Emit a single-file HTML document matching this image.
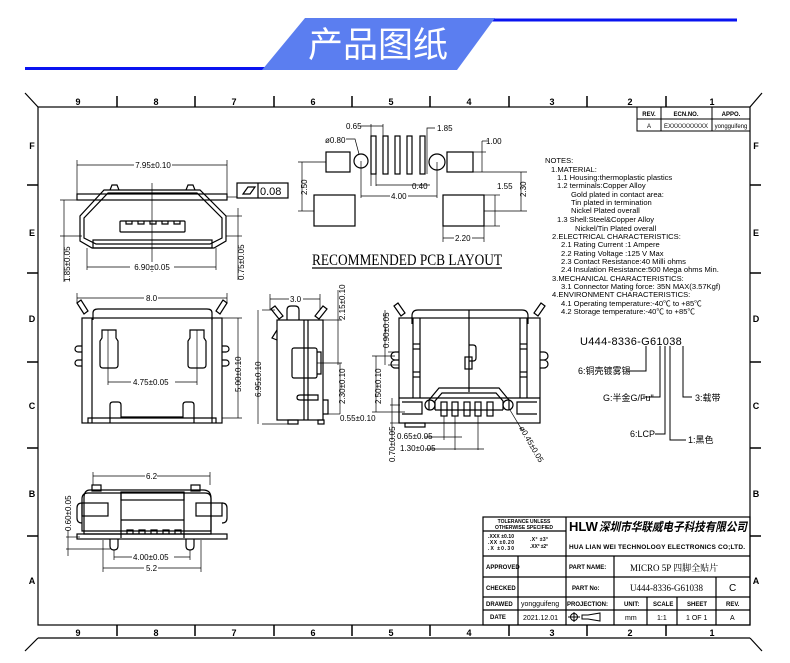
<!DOCTYPE html>
<html><head><meta charset="utf-8"><style>
html,body{margin:0;padding:0;background:#fff}
svg{display:block}
text{font-family:"Liberation Sans","Noto Sans CJK SC",sans-serif;fill:#000}
.s{font-size:8px}
.n{font-size:7.6px}
.cjk{font-family:"Liberation Serif","Noto Serif CJK SC",serif}
</style></head><body>
<svg width="790" height="663" viewBox="0 0 790 663" xmlns="http://www.w3.org/2000/svg" fill="none" stroke="#000" stroke-width="1">
<!-- header -->
<line x1="25" y1="68.5" x2="265" y2="68.5" stroke="#0a14f0" stroke-width="3"/>
<line x1="490" y1="20" x2="737" y2="20" stroke="#0a14f0" stroke-width="3"/>
<polygon points="305,18 495,18 457,70 262,70" fill="#5b7ef0" stroke="none"/>
<text x="378" y="57" font-size="35" text-anchor="middle" style="fill:#fff;font-family:'Noto Sans CJK SC',sans-serif" stroke="none">产品图纸</text>

<!-- frame -->
<g stroke-width="1.2">
<line x1="25" y1="93" x2="38" y2="107"/><line x1="762" y1="93" x2="750" y2="107"/>
<line x1="25" y1="651" x2="38" y2="638"/><line x1="762" y1="651" x2="750" y2="638"/>
<rect x="38" y="107" width="712" height="518"/>
<line x1="38" y1="638" x2="750" y2="638"/>
</g>
<g stroke-width="1.5">
<line x1="117" y1="96" x2="117" y2="107"/><line x1="195" y1="96" x2="195" y2="107"/><line x1="274" y1="96" x2="274" y2="107"/><line x1="352" y1="96" x2="352" y2="107"/><line x1="430" y1="96" x2="430" y2="107"/><line x1="509" y1="96" x2="509" y2="107"/><line x1="587" y1="96" x2="587" y2="107"/><line x1="666" y1="96" x2="666" y2="107"/>
<line x1="117" y1="625" x2="117" y2="636"/><line x1="195" y1="625" x2="195" y2="636"/><line x1="274" y1="625" x2="274" y2="636"/><line x1="352" y1="625" x2="352" y2="636"/><line x1="430" y1="625" x2="430" y2="636"/><line x1="509" y1="625" x2="509" y2="636"/><line x1="587" y1="625" x2="587" y2="636"/><line x1="666" y1="625" x2="666" y2="636"/>
<line x1="27" y1="185" x2="38" y2="185"/><line x1="27" y1="273" x2="38" y2="273"/><line x1="27" y1="362" x2="38" y2="362"/><line x1="27" y1="448" x2="38" y2="448"/><line x1="27" y1="536" x2="38" y2="536"/>
<line x1="750" y1="185" x2="761" y2="185"/><line x1="750" y1="273" x2="761" y2="273"/><line x1="750" y1="362" x2="761" y2="362"/><line x1="750" y1="448" x2="761" y2="448"/><line x1="750" y1="536" x2="761" y2="536"/>
</g>
<g font-size="9" font-weight="bold" text-anchor="middle" stroke="none">
<text x="78" y="105">9</text><text x="156" y="105">8</text><text x="234" y="105">7</text><text x="313" y="105">6</text><text x="391" y="105">5</text><text x="469" y="105">4</text><text x="552" y="105">3</text><text x="630" y="105">2</text><text x="712" y="105">1</text>
<text x="78" y="636">9</text><text x="156" y="636">8</text><text x="234" y="636">7</text><text x="313" y="636">6</text><text x="391" y="636">5</text><text x="469" y="636">4</text><text x="552" y="636">3</text><text x="630" y="636">2</text><text x="712" y="636">1</text>
<text x="32" y="149">F</text><text x="32" y="236">E</text><text x="32" y="322">D</text><text x="32" y="409">C</text><text x="32" y="497">B</text><text x="32" y="584">A</text>
<text x="756" y="149">F</text><text x="756" y="236">E</text><text x="756" y="322">D</text><text x="756" y="409">C</text><text x="756" y="497">B</text><text x="756" y="584">A</text>
</g>
<!-- rev table -->
<rect x="637" y="107" width="113" height="24"/><line x1="637" y1="119" x2="750" y2="119"/><line x1="661" y1="107" x2="661" y2="131"/><line x1="712" y1="107" x2="712" y2="131"/>
<g font-size="6" text-anchor="middle" stroke="none" font-weight="bold"><text x="649" y="116">REV.</text><text x="686" y="116">ECN.NO.</text><text x="731" y="116">APPO.</text></g>
<g font-size="6" text-anchor="middle" stroke="none"><text x="649" y="128">A</text><text x="686" y="128">EXXXXXXXXXX</text><text x="731" y="128">yongguifeng</text></g>

<!-- front view -->
<g stroke-width="1.2">
<line x1="77" y1="160" x2="77" y2="196" stroke-width="0.7"/><line x1="227" y1="160" x2="227" y2="196" stroke-width="0.7"/>
<line x1="77" y1="165" x2="227" y2="165" stroke-width="0.7"/>
<rect x="77" y="194" width="150" height="6"/>
<path d="M110,190 L112,185 L117,185 L119,190 M186,190 L188,185 L193,185 L195,190"/>
<path d="M104,190 L200,190 L226,216 L226,241 L214,248 L92,248 L80,241 L80,216 Z"/>
<path d="M108,193 L197,193 L222,218 L222,238 L210,244 L96,244 L84,238 L84,218 Z"/>
<rect x="93" y="240" width="119" height="8"/>
<rect x="120" y="221" width="65" height="11" rx="1"/>
<path d="M126,221 v3 h6 v-3 M138,221 v3 h6 v-3 M150,221 v3 h6 v-3 M162,221 v3 h6 v-3 M174,221 v3 h6 v-3"/>
<line x1="152" y1="183" x2="152" y2="272" stroke-width="0.7"/>
<line x1="87" y1="248" x2="87" y2="270" stroke-width="0.7"/><line x1="216" y1="248" x2="216" y2="270" stroke-width="0.7"/>
<line x1="87" y1="267" x2="216" y2="267" stroke-width="0.7"/>
<line x1="60" y1="200" x2="80" y2="200" stroke-width="0.7"/><line x1="60" y1="236" x2="82" y2="236" stroke-width="0.7"/><line x1="64" y1="200" x2="64" y2="282" stroke-width="0.7"/>
<line x1="226" y1="216" x2="242" y2="216" stroke-width="0.7"/><line x1="226" y1="236" x2="242" y2="236" stroke-width="0.7"/><line x1="238" y1="208" x2="238" y2="280" stroke-width="0.7"/>
<line x1="227" y1="197" x2="237" y2="197" stroke-width="0.7"/>
<rect x="237" y="183" width="51" height="15"/><line x1="258" y1="183" x2="258" y2="198"/>
<path d="M243,194 L248,187 L255,187 L250,194 Z"/>
</g>
<rect x="134" y="160" width="38" height="9" fill="#fff" stroke="none"/><text x="153" y="168" class="s" text-anchor="middle" stroke="none">7.95±0.10</text>
<rect x="130" y="262" width="44" height="9" fill="#fff" stroke="none"/><text x="152" y="270" class="s" text-anchor="middle" stroke="none">6.90±0.05</text>
<text x="260" y="195" font-size="11" stroke="none">0.08</text>
<text class="s" stroke="none" transform="translate(70,282) rotate(-90)">1.85±0.05</text>
<text class="s" stroke="none" transform="translate(244,280) rotate(-90)">0.75±0.05</text>

<!-- PCB layout -->
<g stroke-width="1.2">
<rect x="326" y="152" width="24" height="20"/>
<circle cx="361" cy="161" r="7"/>
<rect x="371" y="136" width="5" height="38"/><rect x="383" y="136" width="5" height="38"/><rect x="395" y="136" width="5" height="38"/><rect x="407" y="136" width="5" height="38"/><rect x="420" y="136" width="5" height="38"/>
<circle cx="437" cy="162" r="8"/>
<rect x="447" y="152" width="26" height="20"/>
<rect x="314" y="195" width="41" height="31"/>
<rect x="443" y="195" width="41" height="31"/>
</g>
<g stroke-width="0.7">
<line x1="298" y1="162" x2="326" y2="162"/><line x1="298" y1="211" x2="314" y2="211"/><line x1="302" y1="162" x2="302" y2="211"/>
<line x1="361" y1="161" x2="361" y2="198"/><line x1="437" y1="162" x2="437" y2="198"/><line x1="361" y1="196" x2="437" y2="196"/>
<line x1="371" y1="174" x2="371" y2="186"/><line x1="376" y1="174" x2="376" y2="186"/><line x1="376" y1="185" x2="430" y2="185"/>
<line x1="371" y1="124" x2="371" y2="136"/><line x1="383" y1="124" x2="383" y2="136"/><line x1="360" y1="126" x2="383" y2="126"/>
<polyline points="427,174 427,128 435,128"/>
<polyline points="346,139 355,139 359,154"/>
<line x1="473" y1="152" x2="486" y2="152"/><line x1="473" y1="172" x2="527" y2="172"/><line x1="482" y1="141" x2="482" y2="172"/><line x1="482" y1="141" x2="488" y2="141"/>
<line x1="484" y1="195" x2="500" y2="195"/><line x1="484" y1="226" x2="500" y2="226"/><line x1="495" y1="195" x2="495" y2="226"/>
<line x1="484" y1="211" x2="527" y2="211"/><line x1="521" y1="172" x2="521" y2="211"/>
<line x1="443" y1="226" x2="443" y2="242"/><line x1="484" y1="226" x2="484" y2="242"/><line x1="443" y1="238" x2="484" y2="238"/>
</g>
<g class="s" stroke="none">
<text x="346" y="129">0.65</text><text x="437" y="131">1.85</text><text x="325" y="143">ø0.80</text><text x="486" y="144">1.00</text>
<text x="412" y="189">0.40</text><rect x="390" y="191" width="18" height="9" fill="#fff"/><text x="391" y="199">4.00</text>
<text x="497" y="189">1.55</text><rect x="454" y="234" width="18" height="9" fill="#fff"/><text x="455" y="241">2.20</text>
<text transform="translate(307,195) rotate(-90)">2.50</text><text transform="translate(526,197) rotate(-90)">2.30</text>
</g>
<text x="312" y="265" font-size="16" textLength="190" lengthAdjust="spacingAndGlyphs" stroke="none" style="font-family:'Liberation Serif',serif">RECOMMENDED  PCB  LAYOUT</text>
<line x1="312" y1="268" x2="502" y2="268" stroke-width="1.2"/>

<!-- top view -->
<g stroke-width="1.2">
<path d="M93,320 L93,313 Q93,309 98,309 L207,309 Q212,309 212,313 L212,320"/>
<rect x="82" y="318" width="140" height="105"/>
<line x1="92" y1="318" x2="92" y2="423"/><line x1="212" y1="318" x2="212" y2="423"/>
<path d="M77,303 L81,300 L88,311 L84,314 Z M227,303 L223,300 L216,311 L220,314 Z"/>
<path d="M82,352 h-4 a3,3 0 0 1 0,-6 h4 M82,366 h-4 a3,3 0 0 1 0,-6 h4 M222,352 h4 a3,3 0 0 0 0,-6 h-4 M222,366 h4 a3,3 0 0 0 0,-6 h-4"/>
<path d="M102,330 h14 v8 l2,3 v24 q0,3 -3,3 h-12 q-3,0 -3,-3 v-24 l2,-3 Z"/>
<path d="M190,330 h14 v8 l2,3 v24 q0,3 -3,3 h-12 q-3,0 -3,-3 v-24 l2,-3 Z"/>
<path d="M110,423 v-18 q0,-3 3,-3 h5 q3,0 3,3 v12 h62 v-12 q0,-3 3,-3 h5 q3,0 3,3 v18"/>
<path d="M88,423 v-5 h128 v5"/>
</g>
<g stroke-width="0.7">
<line x1="77" y1="293" x2="77" y2="303"/><line x1="227" y1="293" x2="227" y2="303"/><line x1="77" y1="298" x2="227" y2="298"/>
<line x1="108" y1="330" x2="108" y2="385"/><line x1="197" y1="330" x2="197" y2="385"/><line x1="108" y1="382" x2="197" y2="382"/>
<line x1="222" y1="318" x2="242" y2="318"/><line x1="222" y1="418" x2="242" y2="418"/><line x1="238" y1="318" x2="238" y2="418"/>
</g>
<rect x="144" y="293" width="14" height="9" fill="#fff" stroke="none"/><text x="146" y="301" class="s" stroke="none">8.0</text>
<rect x="131" y="378" width="44" height="9" fill="#fff" stroke="none"/><text x="133" y="385" class="s" stroke="none">4.75±0.05</text>
<text class="s" stroke="none" transform="translate(241,392) rotate(-90)">5.00±0.10</text>

<!-- side view -->
<g stroke-width="1.2">
<rect x="277" y="320" width="46" height="100"/>
<line x1="304" y1="320" x2="304" y2="420"/><line x1="308" y1="320" x2="308" y2="420"/>
<path d="M287,320 v-10 q0,-4 4,-4 h4 q4,0 4,4 v10"/>
<path d="M271,309 L275,306 L283,316 L279,319 Z M327,309 L323,306 L315,316 L319,319 Z"/>
<rect x="292" y="348" width="25" height="30" rx="2"/><path d="M317,352 h4 v22 h-4"/>
<path d="M300,400 h18 v-5 h-18 q-3,0 -3,2.5 q0,2.5 3,2.5 Z"/>
<path d="M323,400 h5 v14 h-5"/>
<rect x="288" y="420" width="10" height="4"/><rect x="318" y="420" width="6" height="4"/>
<path d="M277,330 l-5,8 l5,2"/>
</g>
<g stroke-width="0.7">
<line x1="270" y1="294" x2="270" y2="310"/><line x1="320" y1="294" x2="320" y2="310"/><line x1="270" y1="299" x2="320" y2="299"/>
<line x1="262" y1="310" x2="275" y2="310"/><line x1="262" y1="424" x2="288" y2="424"/><line x1="258" y1="310" x2="258" y2="424"/>
<line x1="323" y1="320" x2="342" y2="320"/><line x1="338" y1="290" x2="338" y2="365"/><line x1="317" y1="363" x2="342" y2="363"/>
<line x1="328" y1="414" x2="340" y2="414"/><line x1="340" y1="363" x2="340" y2="414"/>
</g>
<rect x="289" y="294" width="14" height="9" fill="#fff" stroke="none"/><text x="290" y="302" class="s" stroke="none">3.0</text>
<text class="s" stroke="none" transform="translate(261,397) rotate(-90)">6.95±0.10</text>
<text class="s" stroke="none" transform="translate(345,320) rotate(-90)">2.15±0.10</text>
<text class="s" stroke="none" transform="translate(345,404) rotate(-90)">2.30±0.10</text>
<text x="340" y="421" class="s" stroke="none">0.55±0.10</text>

<!-- bottom view -->
<g stroke-width="1.2">
<path d="M418,310 h104 q6,0 6,6 v8"/><path d="M418,310 q-6,0 -6,6 v8"/>
<rect x="399" y="318" width="141" height="105"/>
<line x1="413" y1="318" x2="413" y2="398"/><line x1="420" y1="318" x2="420" y2="398"/><line x1="520" y1="318" x2="520" y2="398"/><line x1="527" y1="318" x2="527" y2="398"/>
<line x1="399" y1="398" x2="540" y2="398"/>
<path d="M394,306 L398,303 L405,313 L401,316 Z M545,306 L541,303 L534,313 L538,316 Z"/>
<line x1="469" y1="310" x2="469" y2="392"/>
<path d="M469,345 h4 q3,0 3,3 v10 q0,3 -3,3 h-4"/><rect x="465" y="357" width="7" height="12"/>
<path d="M399,352 h-4 a4,4 0 0 0 0,8 h4 M399,360 h-4 a4,4 0 0 0 0,8 h4 M540,352 h4 a4,4 0 0 1 0,8 h-4 M540,360 h4 a4,4 0 0 1 0,8 h-4"/>
<line x1="413" y1="344" x2="420" y2="344"/><line x1="413" y1="349" x2="420" y2="349"/><line x1="520" y1="344" x2="527" y2="344"/><line x1="520" y1="349" x2="527" y2="349"/>
<line x1="413" y1="372" x2="420" y2="372"/><line x1="413" y1="377" x2="420" y2="377"/><line x1="520" y1="372" x2="527" y2="372"/><line x1="520" y1="377" x2="527" y2="377"/>
<path d="M429,410 v-10 l10,-12 h60 l10,12 v10"/>
<path d="M435,410 v-9 l7,-8 h54 l7,8 v9"/>
<circle cx="430" cy="405" r="5"/><circle cx="508" cy="405" r="5"/>
<rect x="441" y="402" width="6" height="14"/><rect x="452" y="402" width="6" height="14"/><rect x="464" y="402" width="6" height="14"/><rect x="475" y="402" width="6" height="14"/><rect x="487" y="402" width="6" height="14"/>
<line x1="435" y1="410" x2="503" y2="410"/>
<path d="M402,402 h20 v12 h-20 M537,402 h-20 v12 h20"/>
<rect x="405" y="423" width="20" height="4"/>
</g>
<g stroke-width="0.7">
<line x1="388" y1="352" x2="399" y2="352"/><line x1="388" y1="365" x2="399" y2="365"/><line x1="385" y1="310" x2="385" y2="365"/>
<line x1="372" y1="356" x2="395" y2="356"/><line x1="372" y1="412" x2="405" y2="412"/><line x1="376" y1="356" x2="376" y2="412"/>
<line x1="390" y1="405" x2="400" y2="405"/><line x1="390" y1="423" x2="400" y2="423"/><line x1="392" y1="398" x2="392" y2="440"/>
<line x1="444" y1="416" x2="444" y2="440"/><line x1="455" y1="416" x2="455" y2="450"/><line x1="478" y1="416" x2="478" y2="450"/>
<line x1="425" y1="437" x2="462" y2="437"/><line x1="425" y1="449" x2="484" y2="449"/>
<line x1="510" y1="410" x2="522" y2="430"/>
</g>
<text class="s" stroke="none" transform="translate(389,348) rotate(-90)">0.90±0.05</text>
<text class="s" stroke="none" transform="translate(381,404) rotate(-90)">2.50±0.10</text>
<text class="s" stroke="none" transform="translate(395,462) rotate(-90)">0.70±0.05</text>
<text x="397" y="439" class="s" stroke="none">0.65±0.05</text>
<text x="400" y="451" class="s" stroke="none">1.30±0.05</text>
<text class="s" stroke="none" transform="translate(519,428) rotate(60)">ø0.45±0.05</text>

<!-- end view -->
<g stroke-width="1.2">
<rect x="92" y="485" width="9" height="6"/><rect x="191" y="485" width="9" height="6"/>
<path d="M90,490 h113 q8,0 8,8 v36 h-127 v-36 q0,-8 6,-8 Z"/>
<path d="M88,493 h117 q6,0 6,6 v32 h-129 v-32 q0,-6 6,-6 Z"/>
<line x1="121" y1="492" x2="121" y2="538"/><line x1="184" y1="492" x2="184" y2="538"/>
<rect x="121" y="492" width="63" height="8"/><line x1="121" y1="520" x2="184" y2="520"/>
<rect x="82" y="503" width="26" height="13"/><rect x="196" y="503" width="26" height="13"/>
<path d="M82,503 q-5,0 -5,5 v10 q0,5 5,5 M222,503 q5,0 5,5 v10 q0,5 -5,5"/>
<rect x="77" y="534" width="150" height="5"/>
<path d="M127,534 v-4 h6 v4 M139,534 v-4 h6 v4 M151,534 v-4 h6 v4 M163,534 v-4 h6 v4 M175,534 v-4 h6 v4"/>
<path d="M110,539 v7 q0,4 4,4 q4,0 4,-4 v-7 M186,539 v7 q0,4 4,4 q4,0 4,-4 v-7"/>
</g>
<g stroke-width="0.7">
<line x1="93" y1="472" x2="93" y2="485"/><line x1="210" y1="472" x2="210" y2="485"/><line x1="93" y1="476" x2="210" y2="476"/>
<line x1="114" y1="550" x2="114" y2="560"/><line x1="190" y1="550" x2="190" y2="560"/><line x1="114" y1="557" x2="190" y2="557"/>
<line x1="103" y1="540" x2="103" y2="572"/><line x1="201" y1="540" x2="201" y2="572"/><line x1="103" y1="568" x2="201" y2="568"/>
<line x1="66" y1="537" x2="80" y2="537"/><line x1="66" y1="549" x2="110" y2="549"/><line x1="68" y1="530" x2="68" y2="556"/>
</g>
<rect x="145" y="472" width="12" height="9" fill="#fff" stroke="none"/><text x="146" y="479" class="s" stroke="none">6.2</text>
<rect x="132" y="553" width="42" height="9" fill="#fff" stroke="none"/><text x="133" y="560" class="s" stroke="none">4.00±0.05</text>
<rect x="144" y="564" width="14" height="9" fill="#fff" stroke="none"/><text x="146" y="571" class="s" stroke="none">5.2</text>
<text class="s" stroke="none" transform="translate(71,531) rotate(-90)">0.60±0.05</text>

<!-- notes -->
<g class="n" stroke="none">
<text x="545" y="163">NOTES:</text>
<text x="551" y="172">1.MATERIAL:</text>
<text x="557" y="180">1.1  Housing:thermoplastic  plastics</text>
<text x="557" y="188">1.2  terminals:Copper  Alloy</text>
<text x="571" y="197">Gold  plated  in  contact  area:</text>
<text x="571" y="205">Tin  plated  in  termination</text>
<text x="571" y="213">Nickel  Plated  overall</text>
<text x="557" y="222">1.3  Shell:Steel&amp;Copper  Alloy</text>
<text x="575" y="231">Nickel/Tin  Plated  overall</text>
<text x="552" y="239">2.ELECTRICAL  CHARACTERISTICS:</text>
<text x="561" y="247">2.1  Rating  Current  :1  Ampere</text>
<text x="561" y="256">2.2  Rating  Voltage  :125  V  Max</text>
<text x="561" y="264">2.3  Contact  Resistance:40  Milli  ohms</text>
<text x="561" y="272">2.4  Insulation  Resistance:500  Mega  ohms  Min.</text>
<text x="552" y="281">3.MECHANICAL  CHARACTERISTICS:</text>
<text x="561" y="289">3.1  Connector  Mating  force:  35N  MAX(3.57Kgf)</text>
<text x="552" y="297">4.ENVIRONMENT  CHARACTERISTICS:</text>
<text x="561" y="306">4.1  Operating  temperature:-40℃  to  +85℃</text>
<text x="561" y="314">4.2  Storage  temperature:-40℃  to  +85℃</text>
</g>
<text x="580" y="345" font-size="11" stroke="none" style="letter-spacing:0.3px">U444-8336-G61038</text>
<g stroke-width="1">
<polyline points="646,346 646,371 626,371"/>
<polyline points="660,346 660,397 643,397"/>
<polyline points="665,346 665,434 655,434"/>
<polyline points="670,346 670,440 686,440"/>
<polyline points="683,346 683,397 692,397"/>
</g>
<g font-size="9" stroke="none" style="font-family:'Noto Serif CJK SC',serif">
<text x="578" y="374">6:铜壳镀雾锡</text>
<text x="603" y="401">G:半金G/Fu"</text>
<text x="695" y="401">3:载带</text>
<text x="630" y="437">6:LCP</text>
<text x="688" y="443">1:黑色</text>
</g>

<!-- title block -->
<g stroke-width="1.2">
<rect x="483" y="517" width="267" height="108"/>
<line x1="483" y1="556" x2="750" y2="556"/><line x1="483" y1="577" x2="750" y2="577"/><line x1="483" y1="597" x2="750" y2="597"/><line x1="483" y1="610" x2="750" y2="610"/>
<line x1="566" y1="517" x2="566" y2="625"/><line x1="518" y1="556" x2="518" y2="625"/><line x1="614" y1="556" x2="614" y2="625"/>
<line x1="647" y1="597" x2="647" y2="625"/><line x1="677" y1="597" x2="677" y2="625"/><line x1="716" y1="577" x2="716" y2="625"/>
<line x1="483" y1="531" x2="566" y2="531"/>
</g>
<g stroke="none" font-weight="bold">
<text x="524" y="523" font-size="5" text-anchor="middle">TOLERANCE UNLESS</text>
<text x="524" y="529" font-size="5" text-anchor="middle">OTHERWISE SPECIFIED</text>
<text x="488" y="538" font-size="5" textLength="26">.XXX ±0.10</text><text x="488" y="544" font-size="5" textLength="26">.XX  ±0.20</text><text x="488" y="550" font-size="5" textLength="26">.X   ±0.30</text>
<text x="530" y="541" font-size="5" textLength="18">.X°  ±3°</text><text x="530" y="548" font-size="5" textLength="18">.XX° ±2°</text>
<text x="569" y="531" font-size="13">HLW</text>
<text x="599" y="531" font-size="12" font-style="italic" textLength="148" lengthAdjust="spacingAndGlyphs" style="font-family:'Noto Sans CJK SC',sans-serif">深圳市华联威电子科技有限公司</text>
<text x="569" y="549" font-size="6.5" textLength="176">HUA LIAN WEI TECHNOLOGY ELECTRONICS CO;LTD.</text>
<text x="486" y="569" font-size="6">APPROVED</text><text x="569" y="569" font-size="6">PART NAME:</text>
<text x="486" y="590" font-size="6">CHECKED</text><text x="572" y="590" font-size="6">PART No:</text>
<text x="486" y="606" font-size="6">DRAWED</text><text x="567" y="606" font-size="6">PROJECTION:</text>
<text x="490" y="619" font-size="6">DATE</text>
<text x="624" y="606" font-size="6">UNIT:</text><text x="653" y="606" font-size="6">SCALE</text><text x="687" y="606" font-size="6">SHEET</text><text x="726" y="606" font-size="6">REV.</text>
</g>
<g stroke="none" font-size="7">
<text x="521" y="606">yongguifeng</text><text x="523" y="620">2021.12.01</text>
<text x="625" y="620">mm</text><text x="657" y="620">1:1</text><text x="686" y="620">1 OF 1</text><text x="730" y="620">A</text>
</g>
<text x="630" y="571" font-size="9" stroke="none" class="cjk">MICRO 5P 四脚全贴片</text>
<text x="630" y="591" font-size="9" stroke="none" class="cjk">U444-8336-G61038</text>
<text x="729" y="591" font-size="10" stroke="none">C</text>
<g stroke-width="1"><circle cx="574" cy="617" r="3.5"/><line x1="568" y1="617" x2="580" y2="617"/><line x1="574" y1="612" x2="574" y2="622"/><path d="M582,615 h6 l12,-2 v8 l-12,-2 h-6 Z"/></g>
</svg>
</body></html>
